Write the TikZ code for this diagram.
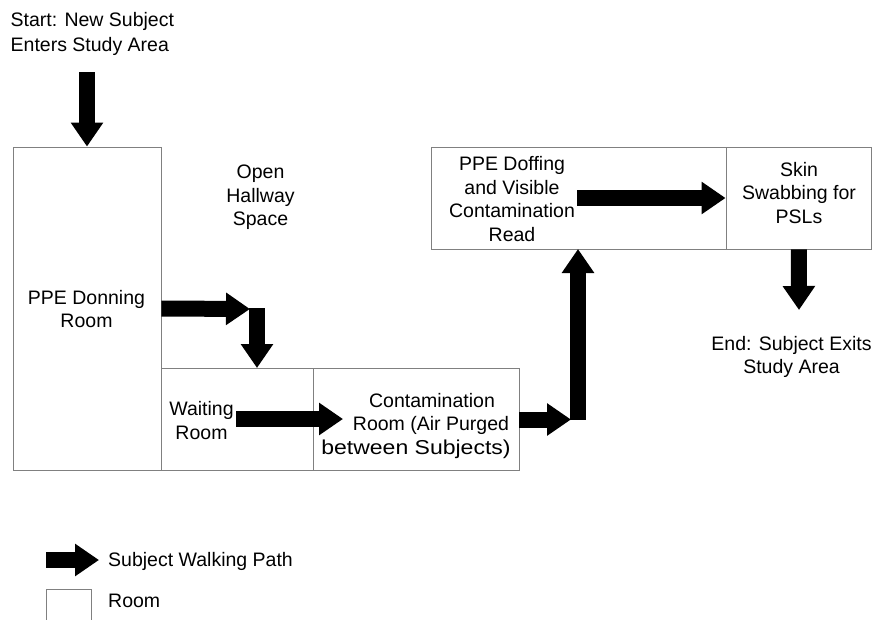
\documentclass[tikz,border=0pt]{standalone}
\usepackage{fontspec}
\usepackage{graphicx}
\setmainfont{Liberation Sans}
\usetikzlibrary{arrows.meta,calc}
\tikzset{
  room/.style={draw=black!50, line width=0.9pt, rectangle, inner sep=0pt},
  txt/.style={font=\fontsize{19.5}{23.5}\selectfont, align=center, inner sep=0pt},
  walk/.style={line width=16pt, -{Triangle[length=24pt 0 0, width=31pt 0 0]}},
}
\begin{document}
\begin{tikzpicture}[x=1pt,y=-1pt]
\useasboundingbox (0,0) rectangle (872,619);
% rooms
\node[room, minimum width=148pt, minimum height=323pt] (donning) at (87,308.5) {};
\node[room, minimum width=152pt, minimum height=102pt] (waiting) at (237,419) {};
\node[room, minimum width=206pt, minimum height=102pt] (contam) at (416,419) {};
\node[room, minimum width=295pt, minimum height=102pt] (doffing) at (578.5,198) {};
\node[room, minimum width=145.5pt, minimum height=102pt] (skin) at (798.75,198) {};
% texts
\node[txt, align=left, anchor=west, font=\fontsize{19.5}{24.5}\selectfont] (start) at (10.5,34) {Start: New Subject\\Enters Study Area};
\node[txt] (hall) at (260.5,197.5) {Open\\Hallway\\Space};
\node[txt] (tdon) at (86.5,309) {PPE Donning\\Room};
\node[txt] (twait) at (201.5,420.5) {Waiting\\Room};
\node[txt] (tcont) at (416,426) {\hspace*{32pt}Contamination\\\hspace*{30pt}Room (Air Purged\\\scalebox{1.18}[1.03]{between Subjects)}};
\node[txt] (tdoff) at (512,199) {PPE Doffing\\and Visible\\Contamination\\Read};
\node[txt] (tskin) at (799,193) {Skin\\Swabbing for\\PSLs};
\node[txt] (end) at (791.5,357) {End: Subject Exits\\Study Area};
% coordinates
\coordinate (a1s) at (87,72);
\coordinate (a2e) at (250,309);
\coordinate (a3s) at (257,308);
\coordinate (a3e) at (257,368);
\coordinate (a4s) at (236,419);
\coordinate (a4e) at (343,419);
\coordinate (a5e) at (571,419.5);
\coordinate (a6s) at (578,420);
\coordinate (a6e) at (578,249);
\coordinate (a7s) at (577,198);
\coordinate (a8e) at (799,310);
% walking path
\draw[walk] (a1s) -- (donning.north);
\draw[walk] (donning.east) -- (a2e);
\draw[walk] (a3s) -- (a3e);
\draw[walk] (a4s) -- (a4e);
\draw[walk] (contam.east |- a5e) -- (a5e);
\draw[walk] (a6s) -- (a6e);
\draw[walk] (a7s) -- (skin.west);
\draw[walk] (skin.south) -- (a8e);
% legend
\coordinate (l1s) at (46,560);
\coordinate (l1e) at (99,560);
\draw[walk] (l1s) -- (l1e);
\node[txt, anchor=base west] (lwalk) at (108,566) {Subject Walking Path};
\node[room, minimum width=45pt, minimum height=40pt, anchor=north west] (lroom) at (46,589) {};
\node[txt, anchor=base west] (lroomt) at (108,607.5) {Room};
\end{tikzpicture}
\end{document}
